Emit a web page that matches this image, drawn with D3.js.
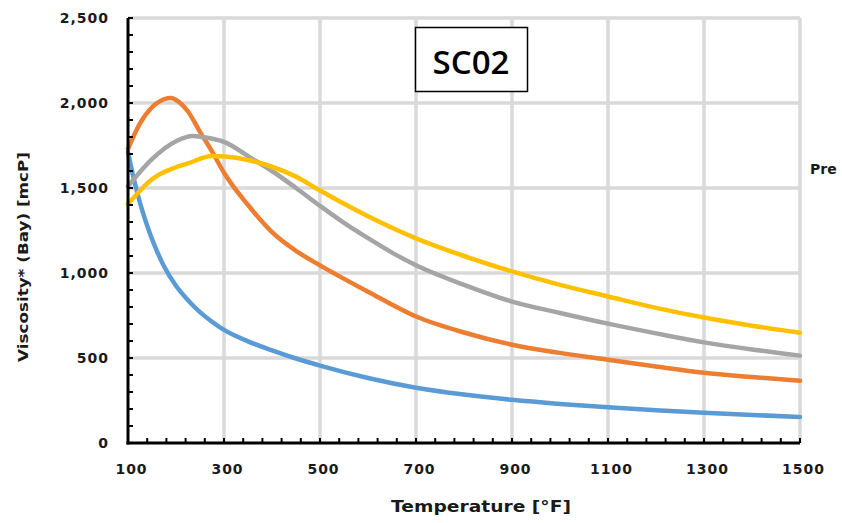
<!DOCTYPE html>
<html>
<head>
<meta charset="utf-8">
<script src="https://cdn.jsdelivr.net/npm/d3@7"></script>
<style>
  html, body { margin: 0; padding: 0; background: #fff; }
  svg { display: block; }
</style>
</head>
<body>
<svg id="chart" width="842" height="523"></svg>
<script>
// ---- data ----
const chartTitle = "SC02";
const xTicks = [100, 300, 500, 700, 900, 1100, 1300, 1500];
const yTicks = [0, 500, 1000, 1500, 2000, 2500];
const seriesNames = ["Series 1", "Series 2", "Series 3", "Series 4"];
const seriesColors = ["#5B9BD5", "#ED7D31", "#A5A5A5", "#FFC000"];

const temps1 = [100, 110, 120, 130, 140, 150, 175, 200, 225, 250, 275, 300, 350, 400, 450, 500, 600, 700, 800, 900, 1000, 1100, 1200, 1300, 1400, 1500];
const blue   = [1710, 1580, 1465, 1365, 1278, 1200, 1040, 925, 840, 770, 713, 665, 598, 545, 497, 455, 382, 325, 285, 254, 230, 210, 193, 178, 165, 153];

const temps2 = [100, 125, 150, 175, 190, 200, 225, 250, 275, 300, 350, 400, 450, 500, 600, 700, 800, 900, 1000, 1100, 1200, 1300, 1400, 1500];
const orange = [1730, 1880, 1975, 2022, 2030, 2018, 1950, 1830, 1715, 1590, 1400, 1240, 1130, 1045, 890, 744, 650, 578, 530, 490, 450, 413, 388, 366];

const temps3 = [100, 150, 200, 235, 250, 300, 360, 400, 450, 500, 550, 600, 650, 700, 800, 900, 1000, 1100, 1200, 1300, 1400, 1500];
const gray   = [1510, 1670, 1775, 1806, 1802, 1771, 1670, 1600, 1500, 1395, 1295, 1205, 1120, 1045, 930, 832, 765, 702, 645, 592, 550, 514];

const temps4 = [100, 150, 200, 225, 275, 300, 350, 400, 450, 500, 600, 700, 800, 900, 1000, 1100, 1200, 1300, 1400, 1500];
const yellow = [1405, 1552, 1622, 1645, 1688, 1685, 1665, 1625, 1567, 1485, 1334, 1204, 1100, 1009, 930, 862, 795, 738, 690, 649];

const seriesTemps = [temps1, temps2, temps3, temps4];
const seriesValues = [blue, orange, gray, yellow];

const xTitle = "Temperature [°F]";
const yTitle = "Viscosity* (Bay) [mcP]";
const legendTitle = "Pre";

// ---- layout ----
const svg = d3.select("#chart");
const pLeft = 128, pRight = 800, pTop = 18, pBottom = 443;

const x = d3.scaleLinear().domain([100, 1500]).range([pLeft, pRight]);
const y = d3.scaleLinear().domain([0, 2500]).range([pBottom, pTop]);

// gridlines
const grid = svg.append("g");
grid.selectAll("line.v").data(xTicks.slice(1)).enter().append("line")
  .attr("x1", d => x(d)).attr("x2", d => x(d))
  .attr("y1", pTop).attr("y2", pBottom)
  .attr("stroke", "#d9d9d9").attr("stroke-width", 3.5);
grid.selectAll("line.h").data(yTicks.slice(1)).enter().append("line")
  .attr("x1", pLeft).attr("x2", pRight)
  .attr("y1", d => y(d)).attr("y2", d => y(d))
  .attr("stroke", "#d9d9d9").attr("stroke-width", 3.5);

// series lines
const line = d3.line().curve(d3.curveMonotoneX);
seriesValues.forEach((vals, i) => {
  const pts = vals.map((v, j) => [x(seriesTemps[i][j]), y(v)]);
  svg.append("path")
    .attr("d", line(pts))
    .attr("fill", "none")
    .attr("stroke", seriesColors[i])
    .attr("stroke-width", 4.5)
    .attr("stroke-linecap", "round")
    .attr("stroke-linejoin", "round");
});

// axes
const font = "'DejaVu Sans', 'Liberation Sans', sans-serif";
const yAxis = d3.axisLeft(y).tickValues(yTicks).tickSize(0).tickPadding(19)
  .tickFormat(d3.format(","));
const gy = svg.append("g").attr("transform", `translate(${pLeft},0)`).call(yAxis);
gy.select(".domain").remove();
gy.selectAll("text").attr("font-family", font).attr("font-size", 14).attr("font-weight", "bold")
  .attr("letter-spacing", 1).attr("fill", "#1a1a1a");

const xAxis = d3.axisBottom(x).tickValues(xTicks).tickSize(0).tickPadding(21)
  .tickFormat(d3.format("d"));
const gx = svg.append("g").attr("transform", `translate(0,${pBottom})`).call(xAxis);
gx.select(".domain").remove();
gx.selectAll("text").attr("font-family", font).attr("font-size", 14).attr("font-weight", "bold")
  .attr("letter-spacing", 1).attr("fill", "#1a1a1a").attr("dx", 3);

// minor ticks (inside)
const yMinor = d3.range(0, 2501, 100);
svg.append("g").selectAll("line").data(yMinor).enter().append("line")
  .attr("x1", pLeft).attr("x2", pLeft + 5)
  .attr("y1", d => y(d)).attr("y2", d => y(d))
  .attr("stroke", "#000").attr("stroke-width", 2);
const xMinor = d3.range(100, 1501, 40);
svg.append("g").selectAll("line").data(xMinor).enter().append("line")
  .attr("x1", d => x(d)).attr("x2", d => x(d))
  .attr("y1", pBottom).attr("y2", pBottom - 5)
  .attr("stroke", "#000").attr("stroke-width", 2);

// axis lines
svg.append("line").attr("x1", pLeft).attr("x2", pLeft).attr("y1", pTop).attr("y2", pBottom + 1.5)
  .attr("stroke", "#000").attr("stroke-width", 3);
svg.append("line").attr("x1", pLeft - 1.5).attr("x2", pRight).attr("y1", pBottom).attr("y2", pBottom)
  .attr("stroke", "#000").attr("stroke-width", 3);

// axis titles
svg.append("text").attr("x", 481).attr("y", 512).attr("text-anchor", "middle")
  .attr("font-family", font).attr("font-size", 16).attr("font-weight", "bold").attr("fill", "#1a1a1a")
  .attr("textLength", 180).attr("lengthAdjust", "spacingAndGlyphs")
  .text(xTitle);
svg.append("text").attr("transform", "translate(28,257) rotate(-90)").attr("text-anchor", "middle")
  .attr("font-family", font).attr("font-size", 14).attr("font-weight", "bold").attr("fill", "#1a1a1a")
  .attr("textLength", 210).attr("lengthAdjust", "spacingAndGlyphs")
  .text(yTitle);

// title box
svg.append("rect").attr("x", 415.5).attr("y", 27.5).attr("width", 112).attr("height", 64)
  .attr("fill", "#fff").attr("stroke", "#000").attr("stroke-width", 1.5);
svg.append("text").attr("x", 471).attr("y", 74).attr("text-anchor", "middle")
  .attr("font-family", "'Open Sans', 'Liberation Sans', sans-serif").attr("font-size", 33).attr("font-weight", "600")
  .attr("fill", "#000").text(chartTitle);

// legend title (only its start is visible at the right edge)
svg.append("text").attr("x", 810).attr("y", 174)
  .attr("font-family", font).attr("font-size", 14).attr("font-weight", "bold").attr("fill", "#1a1a1a")
  .text(legendTitle);
</script>
</body>
</html>
